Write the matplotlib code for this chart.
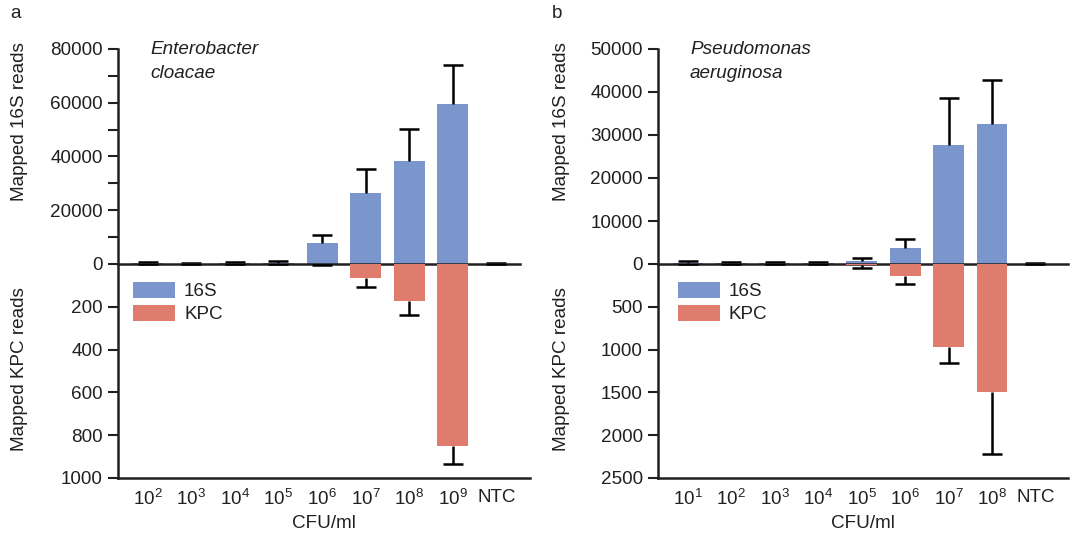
import matplotlib
matplotlib.use("Agg")
import matplotlib.pyplot as plt
from matplotlib.patches import Patch
import numpy as np

plt.rcParams['font.family'] = ['Liberation Sans', 'DejaVu Sans']
plt.rcParams['mathtext.fontset'] = 'custom'
plt.rcParams['mathtext.rm'] = 'Liberation Sans'
plt.rcParams['mathtext.it'] = 'Liberation Sans:italic'

TXT = '#231f20'
BLUE = '#7b96cc'
RED = '#e07c6d'

# ---- Panel a: Enterobacter cloacae ----
cats_a = [r'$10^2$', r'$10^3$', r'$10^4$', r'$10^5$', r'$10^6$', r'$10^7$', r'$10^8$', r'$10^9$', 'NTC']
s16_a = [300, 150, 350, 500, 7800, 26400, 38300, 59500, 100]
s16_err_a = [450, 250, 400, 600, 3100, 9000, 11900, 14600, 250]
kpc_a = [0, 0, 0, 0, 2, 64, 171, 850, 0]
kpc_err_a = [0, 0, 0, 0, 3, 43, 67, 83, 0]

# ---- Panel b: Pseudomonas aeruginosa ----
cats_b = [r'$10^1$', r'$10^2$', r'$10^3$', r'$10^4$', r'$10^5$', r'$10^6$', r'$10^7$', r'$10^8$', 'NTC']
s16_b = [250, 200, 200, 200, 600, 3800, 27600, 32550, 100]
s16_err_b = [350, 250, 250, 200, 700, 1900, 11100, 10300, 100]
kpc_b = [0, 0, 0, 0, 15, 135, 975, 1490, 0]
kpc_err_b = [0, 0, 0, 0, 30, 95, 185, 725, 0]

W, H = 1073, 533
fig = plt.figure(figsize=(W / 100, H / 100), dpi=100)

FS = 13.6


def px(x0, y0, x1, y1):
    return [x0 / W, 1 - y1 / H, (x1 - x0) / W, (y1 - y0) / H]


def one_sided(ax, x, vals, errs):
    zero = np.zeros(len(vals))
    cont = ax.errorbar(x, vals, yerr=[zero, errs], fmt='none', zorder=3,
                       ecolor='black', elinewidth=1.8, capsize=7.5, capthick=1.8)
    caps = cont[1]
    if len(caps) == 2:
        caps[0].set_visible(False)


def panel(left, right, xlim, cats, s16, s16e, kpc, kpce, top_max, top_major, top_minor,
          bot_max, bot_ticks, species, letter, letter_x, ylab_x, zero_right, leg_x):
    ax_t = fig.add_axes(px(left, 49, right, 264))
    ax_b = fig.add_axes(px(left, 264, right, 478))
    x = np.arange(len(cats))
    ax_t.bar(x, s16, width=0.71, color=BLUE, zorder=2)
    one_sided(ax_t, x, s16, s16e)
    ax_b.bar(x, kpc, width=0.71, color=RED, zorder=2)
    one_sided(ax_b, x, kpc, kpce)

    for ax in (ax_t, ax_b):
        ax.set_xlim(*xlim)
        ax.patch.set_alpha(0)
        for s in ('top', 'right'):
            ax.spines[s].set_visible(False)
        ax.spines['left'].set_color(TXT)
        ax.spines['left'].set_linewidth(1.8)
        ax.tick_params(axis='y', direction='out', length=7, width=1.5, colors=TXT,
                       labelsize=FS, pad=4)
        ax.tick_params(axis='y', which='minor', direction='out', length=7, width=1.5, colors=TXT)
        ax.tick_params(axis='x', length=0)

    ax_t.set_ylim(0, top_max)
    ax_t.set_yticks(top_major)
    ax_t.set_yticklabels([str(v) for v in top_major])
    ax_t.set_yticks(top_minor, minor=True)
    ax_t.set_xticks([])
    ax_t.spines['bottom'].set_color(TXT)
    ax_t.spines['bottom'].set_linewidth(1.8)
    ax_t.spines['bottom'].set_bounds(xlim[0], zero_right)
    ax_t.spines['bottom'].set_zorder(4)

    ax_b.set_ylim(bot_max, 0)
    ax_b.set_yticks(bot_ticks)
    ax_b.set_yticklabels([str(v) for v in bot_ticks])
    ax_b.spines['bottom'].set_color(TXT)
    ax_b.spines['bottom'].set_linewidth(1.8)
    ax_b.set_xticks(x)
    ax_b.set_xticklabels(cats, fontsize=FS, color=TXT)
    ax_b.tick_params(axis='x', pad=8)
    ax_b.set_xlabel('CFU/ml', fontsize=FS, color=TXT, labelpad=4)

    fig.text(ylab_x / W, 1 - 122 / H, 'Mapped 16S reads', rotation=90, ha='center',
             va='center', fontsize=FS, color=TXT)
    fig.text(ylab_x / W, 1 - 369 / H, 'Mapped KPC reads', rotation=90, ha='center',
             va='center', fontsize=FS, color=TXT)
    fig.text(letter_x / W, 1 - 14 / H, letter, ha='left', va='center', fontsize=FS, color=TXT)
    fig.text((left + 32) / W, 1 - 50 / H, species[0], style='italic', ha='left',
             va='center', fontsize=FS, color=TXT)
    fig.text((left + 32) / W, 1 - 73 / H, species[1], style='italic', ha='left',
             va='center', fontsize=FS, color=TXT)

    handles = [Patch(facecolor=BLUE, label='16S'), Patch(facecolor=RED, label='KPC')]
    fig.legend(handles=handles, loc='upper left', bbox_to_anchor=(leg_x / W, 1 - 282 / H),
               frameon=False, fontsize=FS, handlelength=2.2, handleheight=0.9,
               handletextpad=0.5, labelspacing=0.25, borderpad=0, borderaxespad=0,
               labelcolor=TXT)


panel(118, 530, (-0.68, 8.77), cats_a, s16_a, s16_err_a, kpc_a, kpc_err_a,
      80000, [0, 20000, 40000, 60000, 80000], [10000, 30000, 50000, 70000],
      1000, [200, 400, 600, 800, 1000], ('Enterobacter', 'cloacae'), 'a', 10, 20, 8.54, 133)

panel(658, 1068, (-0.69, 8.75), cats_b, s16_b, s16_err_b, kpc_b, kpc_err_b,
      50000, [0, 10000, 20000, 30000, 40000, 50000], [],
      2500, [500, 1000, 1500, 2000, 2500], ('Pseudomonas', 'aeruginosa'), 'b', 552, 561, 8.75, 678)

fig.savefig('out.png', dpi=100)
